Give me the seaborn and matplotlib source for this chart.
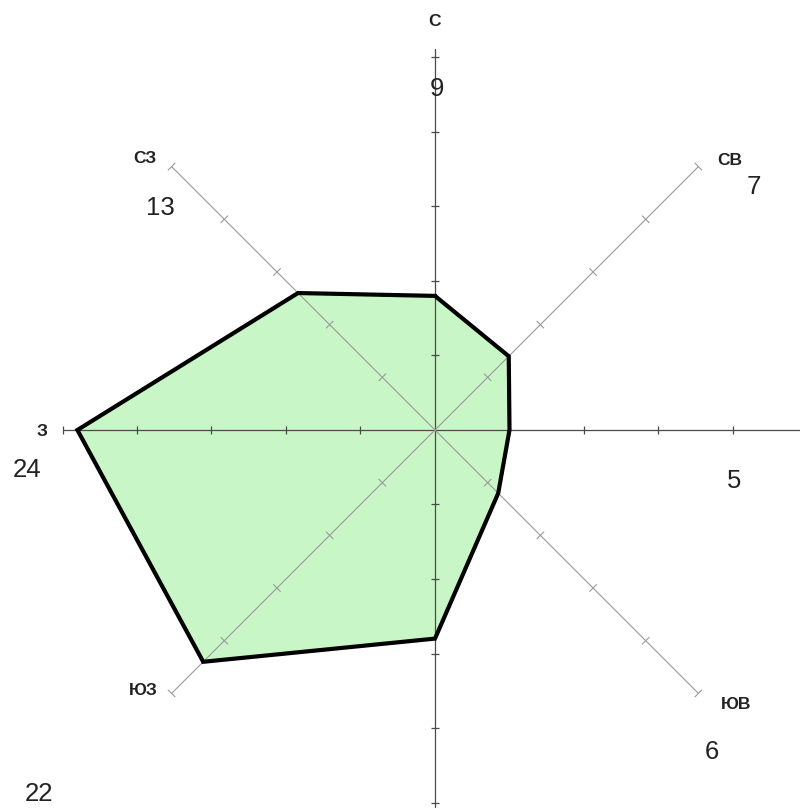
import numpy as np
import pandas as pd
import matplotlib
matplotlib.use("Agg")
import matplotlib.pyplot as plt
from matplotlib.collections import LineCollection
import seaborn as sns

# ---- data ----
directions = ["С", "СВ", "В", "ЮВ", "Ю", "ЮЗ", "З", "СЗ"]
angles_deg = [0, 45, 90, 135, 180, 225, 270, 315]
values = [9, 7, 5, 6, 14, 22, 24, 13]
tick_values = [5, 10, 15, 20, 25]

# labels that are visible in the picture (direction name / value text)
dir_label_names = ["С", "СВ", "СЗ", "З", "ЮВ", "ЮЗ"]
dir_label_pos = [(0.0, 27.4), (19.8, 18.1), (-19.5, 18.2), (-26.4, -0.1), (20.2, -18.4), (-19.6, -17.5)]
val_label_text = ["9", "7", "13", "24", "5", "6", "22"]
val_label_pos = [(0.15, 22.9), (21.4, 16.3), (-18.4, 14.9), (-27.4, -2.7), (20.1, -3.4), (18.6, -21.6), (-26.6, -24.4)]

sns.set_theme(style="white")
plt.rcParams["font.family"] = ["Liberation Sans", "DejaVu Sans"]

SCALE = 14.9  # px per unit
fig = plt.figure(figsize=(8.0, 8.09), dpi=100)
ax = fig.add_axes([0, 0, 1, 1])

ang = np.deg2rad(angles_deg)
df = pd.DataFrame({
    "dir": directions,
    "x": np.array(values) * np.sin(ang),
    "y": np.array(values) * np.cos(ang),
})
closed = pd.concat([df, df.iloc[:1]], ignore_index=True)

# fill
ax.fill(df["x"], df["y"], color="#c9f6c6", zorder=1, lw=0)

# axes lines
main_col = "#4a4a4a"
diag_col = "#9a9a9a"
ax.plot([-25, 26], [0, 0], color=main_col, lw=0.9, zorder=2)
ax.plot([0, 0], [-25.3, 25.6], color=main_col, lw=0.9, zorder=2)
for a in [45, 135]:
    r = np.deg2rad(a)
    ax.plot([-25 * np.sin(r), 25 * np.sin(r)], [-25 * np.cos(r), 25 * np.cos(r)],
            color=diag_col, lw=0.8, zorder=2)

# ticks
main_segs, diag_segs = [], []
for a in angles_deg:
    r = np.deg2rad(a)
    ux, uy = np.sin(r), np.cos(r)
    px, py = -uy, ux
    for t in tick_values:
        cx, cy = t * ux, t * uy
        if a % 90 == 0:
            h = 0.3
            main_segs.append([(cx - h * px, cy - h * py), (cx + h * px, cy + h * py)])
        else:
            h = 0.35
            diag_segs.append([(cx - h * px, cy - h * py), (cx + h * px, cy + h * py)])
ax.add_collection(LineCollection(main_segs, colors=main_col, linewidths=0.9, zorder=2))
ax.add_collection(LineCollection(diag_segs, colors=diag_col, linewidths=0.8, zorder=2))

# outline
sns.lineplot(data=closed, x="x", y="y", sort=False, estimator=None, color="black",
             lw=3.0, ax=ax, zorder=4)
ax.lines[-1].set_solid_joinstyle("miter")

ax.set_xlim(-435 / SCALE, 365 / SCALE)
ax.set_ylim(-379 / SCALE, 430 / SCALE)
ax.set_aspect("equal")
ax.axis("off")

# labels
for name, (x, y) in zip(dir_label_names, dir_label_pos):
    ax.text(x, y, name, ha="center", va="center", fontsize=12.5, fontweight="bold",
            color="#222222", zorder=5)
for txt, (x, y) in zip(val_label_text, val_label_pos):
    ax.text(x, y, txt, ha="center", va="center", fontsize=18.5, color="#222222", zorder=5)

fig.savefig("out.png", dpi=100, facecolor="white")
